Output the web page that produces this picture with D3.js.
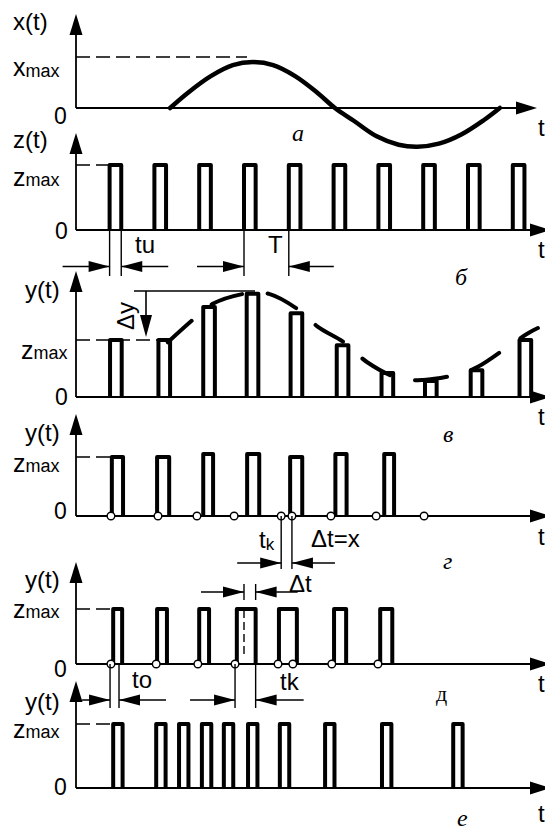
<!DOCTYPE html>
<html><head><meta charset="utf-8">
<script src="https://cdn.jsdelivr.net/npm/d3@7"></script>
<style>
body{margin:0;background:#fff}
svg text{font-family:"Liberation Sans",Arial,sans-serif;fill:#000}
svg text.it{font-family:"Liberation Serif","Times New Roman",serif;font-style:italic}
svg text.rm{font-family:"Liberation Serif","Times New Roman",serif}
</style></head><body>
<svg id="c" width="545" height="832"></svg>
<script>
// Time is measured in sampling periods T; amplitudes in units of x_max / z_max.

// a: input signal x(t)
const signalT = [2.1, 2.5, 3.0, 3.5, 3.95, 4.4, 4.9, 5.4, 5.78, 6.2, 6.7, 7.2, 7.62, 8.1, 8.6, 9.1, 9.46];
const signalX = [0, 0.30, 0.62, 0.84, 0.90, 0.84, 0.62, 0.29, 0, -0.25, -0.55, -0.72, -0.76, -0.70, -0.52, -0.24, 0];

// б: sampling pulse train z(t)
const pulseT = [0.75, 1.75, 2.75, 3.75, 4.75, 5.75, 6.75, 7.75, 8.75, 9.75];
const pulseW = 0.26;

// в: amplitude-modulated pulses and their envelope
const amT = [0.76, 1.84, 2.84, 3.81, 4.79, 5.82, 6.82, 7.79, 8.81, 9.9];
const amY = [1, 1, 1.58, 1.81, 1.47, 0.91, 0.42, 0.28, 0.47, 1.0];
const envT = [2.05, 2.66, 3.04, 3.82, 4.31, 5.04, 5.40, 6.00, 6.50, 7.23, 7.75, 8.53, 8.97, 9.69, 10.09, 10.31];
const envY = [0.96, 1.39, 1.63, 1.82, 1.81, 1.49, 1.23, 0.95, 0.61, 0.32, 0.30, 0.40, 0.53, 0.91, 1.12, 1.21];

// г: pulses with count marks
const gT = [0.80, 1.81, 2.84, 3.82, 4.78, 5.79, 6.88];
const gW = [0.25, 0.27, 0.22, 0.27, 0.27, 0.25, 0.22];
const gY = [1, 1, 1.05, 1.05, 1, 1.05, 1.05];
const gMarks = [0.78, 1.83, 2.70, 3.53, 4.58, 4.82, 5.69, 6.70, 7.77];

// д: width-modulated pulses
const dT = [0.83, 1.81, 2.75, 3.59, 4.53, 5.76, 6.79];
const dW = [0.20, 0.22, 0.22, 0.42, 0.40, 0.27, 0.27];
const dMarks = [0.78, 1.79, 2.72, 3.55, 4.51, 4.84, 5.71, 6.74];
const dDashT = 3.75;
const dToMarks = [0.76, 0.96];
const dTkMarks = [3.55, 4.01];
const dDeltaMarks = [3.75, 4.01];

// е: frequency-modulated pulses
const eT = [0.83, 1.79, 2.30, 2.81, 3.30, 3.84, 4.55, 5.56, 6.83, 8.42];
const eW = 0.21;

const svg = d3.select("#c");
const tx = d3.scaleLinear().domain([0, 10]).range([76, 524]);

// panel frames: baseline, unit level and axis tip (pixels)
const frames = {
  a: {base: 108, unit: 57, tip: 14, xEnd: 537},
  b: {base: 230, unit: 165, tip: 133, xEnd: 551},
  v: {base: 397, unit: 340, tip: 271, xEnd: 551},
  g: {base: 516, unit: 457, tip: 414, xEnd: 551},
  d: {base: 664, unit: 609, tip: 562, xEnd: 551},
  e: {base: 788, unit: 724, tip: 681, xEnd: 551}
};
const yS = {};
for (const k in frames) yS[k] = d3.scaleLinear().domain([0, 1]).range([frames[k].base, frames[k].unit]);

function head(x, y, dir, len = 21, hw = 5.5) {
  let p;
  if (dir === "up") p = [[x, y], [x - hw, y + len], [x + hw, y + len]];
  else if (dir === "down") p = [[x, y], [x - hw, y - len], [x + hw, y - len]];
  else if (dir === "right") p = [[x, y], [x - len, y - hw], [x - len, y + hw]];
  else p = [[x, y], [x + len, y - hw], [x + len, y + hw]];
  svg.append("path").attr("d", "M" + p.join("L") + "Z").attr("fill", "#000");
}
function line(x1, y1, x2, y2, w = 1.6, dash = null) {
  const l = svg.append("line").attr("x1", x1).attr("y1", y1).attr("x2", x2).attr("y2", y2)
    .attr("stroke", "#000").attr("stroke-width", w);
  if (dash) l.attr("stroke-dasharray", dash);
  return l;
}
function txt(x, y, s, size = 24, cls = null, anchor = "start") {
  const t = svg.append("text").attr("x", x).attr("y", y).attr("font-size", size).attr("text-anchor", anchor).text(s);
  if (cls) t.attr("class", cls);
  return t;
}
function sub(x, y, main, small, size = 24, subSize = 17, dy = 1) {
  const t = svg.append("text").attr("x", x).attr("y", y).attr("font-size", size);
  t.append("tspan").text(main);
  t.append("tspan").attr("font-size", subSize).attr("dy", dy).text(small);
  return t;
}

// axes
for (const k in frames) {
  const f = frames[k];
  line(tx(0), f.base, tx(0), f.tip + 10, 1.8);
  head(tx(0), f.tip, "up", 21, 6.5);
  line(tx(0), f.base, f.xEnd - 10, f.base, 1.8);
  head(f.xEnd, f.base, "right", 21, 6.5);
}

// axis labels
txt(13, 30, "x(t)");
sub(13, 76, "x", "max", 25, 18, 1);
txt(54, 124, "0", 23);
txt(538, 136, "t");

txt(13, 148, "z(t)");
sub(13, 186, "z", "max", 25, 18, 0);
txt(55, 239, "0", 23);
txt(538, 258, "t");

txt(25, 298, "y(t)");
sub(21, 359, "z", "max", 25, 18, 0);
txt(55, 405, "0", 23);
txt(538, 425, "t");

txt(25, 441, "y(t)");
sub(13, 472, "z", "max", 25, 18, 0);
txt(54, 519, "0", 23);
txt(538, 545, "t");

txt(25, 588, "y(t)");
sub(13, 618, "z", "max", 25, 18, 0);
txt(54, 677, "0", 23);
txt(538, 692, "t");

txt(25, 710, "y(t)");
sub(13, 738, "z", "max", 25, 18, 0);
txt(54, 795, "0", 23);
txt(538, 822, "t");

// panel letters
txt(292, 141, "a", 24, "it");
txt(455, 285, "б", 24, "it");
txt(443, 442, "в", 24, "it");
txt(443, 569, "г", 24, "it");
txt(436, 701, "д", 22, "rm");
txt(457, 826, "e", 24, "it");

// reference levels
line(tx(0), yS.a(1), 247, yS.a(1), 1.6, "14,6");
line(tx(0), yS.b(1), tx(pulseT[0]), yS.b(1), 1.6, "14,6");
line(tx(0), yS.v(1), tx(amT[1]), yS.v(1), 1.6, "14,6");
line(tx(0), yS.g(1), tx(gT[0]), yS.g(1), 1.6, "14,6");
line(tx(0), yS.d(1), tx(dT[0]), yS.d(1), 1.6, "14,6");
line(tx(0), yS.e(1), tx(eT[0]), yS.e(1), 1.6, "14,6");

// a: sinusoid
svg.append("path")
  .attr("d", d3.line().curve(d3.curveCatmullRom)(signalT.map((t, i) => [tx(t), yS.a(signalX[i])])))
  .attr("fill", "none").attr("stroke", "#000").attr("stroke-width", 4.5).attr("stroke-linecap", "round");

// pulse drawing
function pulses(ts, ws, hs, ys) {
  ts.forEach((t, i) => {
    const w = Array.isArray(ws) ? ws[i] : ws;
    const h = Array.isArray(hs) ? hs[i] : hs;
    const x0 = tx(t), x1 = tx(t + w), yb = ys(0), yt = ys(h);
    svg.append("path").attr("d", `M${x0},${yb}V${yt}H${x1}V${yb}`)
      .attr("fill", "none").attr("stroke", "#000").attr("stroke-width", 4)
      .attr("stroke-linejoin", "round");
  });
}
function marks(ts, ys) {
  ts.forEach(t => svg.append("circle").attr("cx", tx(t)).attr("cy", ys(0)).attr("r", 3.8)
    .attr("fill", "#fff").attr("stroke", "#000").attr("stroke-width", 1.4));
}
// dimension arrows: two arrows pointing inward at a pair of marks
function dim(xa, xb, y, la = 45, lb = 45) {
  line(xa - la, y, xa, y, 1.5); head(xa, y, "right");
  line(xb, y, xb + lb, y, 1.5); head(xb, y, "left");
}

// б
pulses(pulseT, pulseW, 1, yS.b);
line(tx(pulseT[0]), 230, tx(pulseT[0]), 276, 1.4);
line(tx(pulseT[0] + pulseW), 230, tx(pulseT[0] + pulseW), 276, 1.4);
dim(tx(pulseT[0]), tx(pulseT[0] + pulseW), 266.5, 47, 47);
txt(135, 253, "tu");
line(tx(pulseT[3]), 230, tx(pulseT[3]), 276, 1.4);
line(tx(pulseT[4]), 230, tx(pulseT[4]), 276, 1.4);
dim(tx(pulseT[3]), tx(pulseT[4]), 266.5, 47, 45);
txt(268, 253, "T");

// в
pulses(amT, pulseW, amY, yS.v);
svg.append("path")
  .attr("d", d3.line().curve(d3.curveCatmullRom)(envT.map((t, i) => [tx(t), yS.v(envY[i])])))
  .attr("fill", "none").attr("stroke", "#000").attr("stroke-width", 4)
  .attr("stroke-linecap", "round").attr("stroke-dasharray", "32,26");
line(134, 291, 255, 291, 1.5);
line(146, 291, 146, 320, 1.6);
head(146, yS.v(1) - 3, "down", 22, 6);
svg.append("text").attr("transform", "translate(134,330) rotate(-90)").attr("font-size", 24).text("Δy");

// г
pulses(gT, gW, gY, yS.g);
marks(gMarks, yS.g);
line(tx(gMarks[4]), 516, tx(gMarks[4]), 569, 1.4);
line(tx(gMarks[5]), 516, tx(gMarks[5]), 569, 1.4);
dim(tx(gMarks[4]), tx(gMarks[5]), 563, 44, 43);
sub(259, 548, "t", "k", 24, 17, 2);
txt(311, 547, "Δt=x");

// д
pulses(dT, dW, 1, yS.d);
line(tx(dDashT), 610, tx(dDashT), 657, 1.4, "8,4");
marks(dMarks, yS.d);
dDeltaMarks.forEach(t => line(tx(t), 584, tx(t), 600, 1.4));
dim(tx(dDeltaMarks[0]), tx(dDeltaMarks[1]), 592, 43, 42);
txt(289, 592, "Δt");
dToMarks.concat(dTkMarks).forEach(t => line(tx(t), 664, tx(t), 708, 1.4));
dim(tx(dToMarks[0]), tx(dToMarks[1]), 700, 28, 47);
dim(tx(dTkMarks[0]), tx(dTkMarks[1]), 700, 45, 48);
txt(132, 688, "to");
txt(280, 690, "tk");

// е
pulses(eT, eW, 1, yS.e);
</script></body></html>
